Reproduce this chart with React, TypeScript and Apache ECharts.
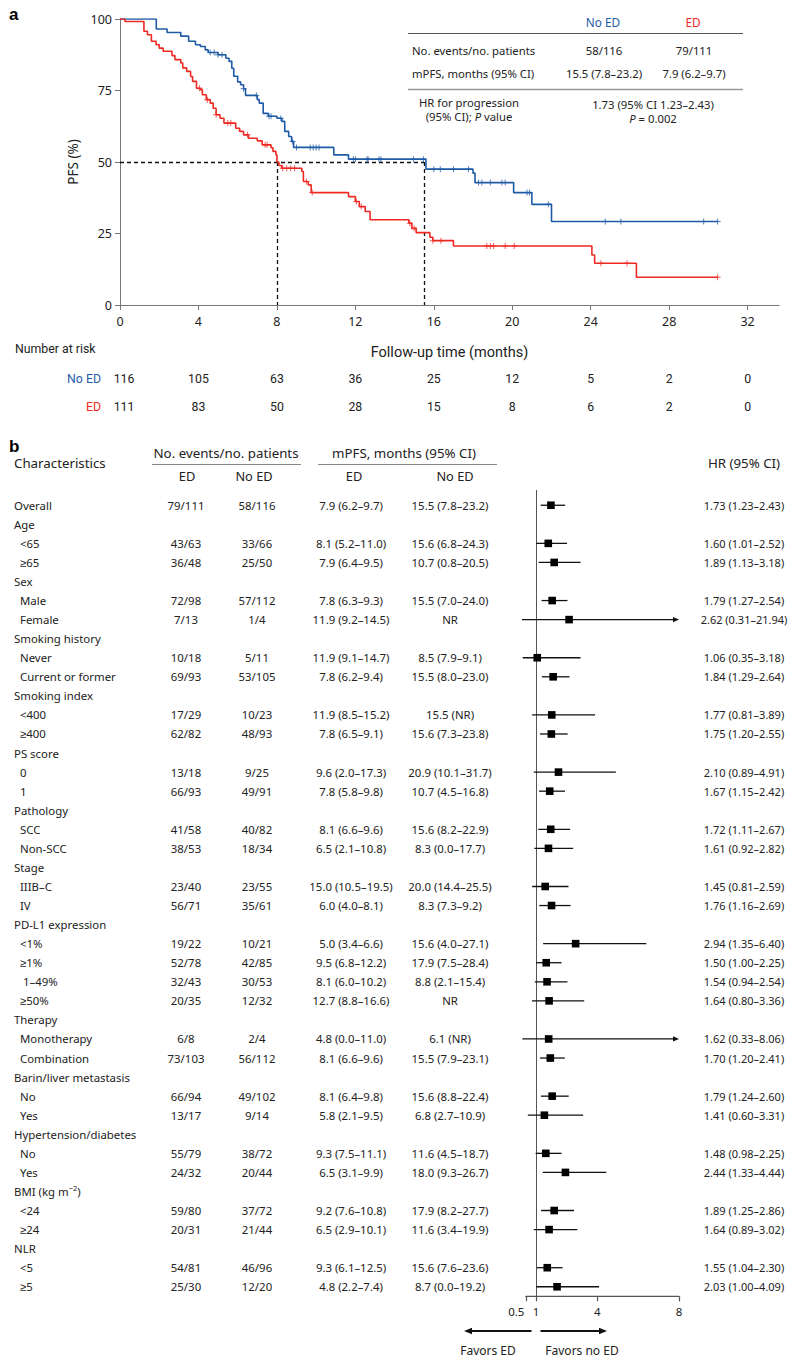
import React, { useEffect, useRef } from 'react';
import * as echarts from 'echarts';

const BLUE = '#1f5ba6';
const RED = '#ee2a24';
const FONT = "'Noto Sans', sans-serif";
const RFONT = "Roboto, sans-serif";

// ---------- Panel a : Kaplan–Meier ----------
const noEdTimes = [0, 1.85, 2.4, 3.1, 3.5, 3.85, 4.1, 4.35, 4.5, 5.0, 5.4, 5.56, 5.7, 5.8, 6.0, 6.15, 6.3, 6.4, 7.0, 7.1, 7.3, 7.56, 8.0, 8.25, 8.4, 8.6, 8.75, 8.85, 10.9, 11.65, 15.6, 18.0, 18.1, 20.07, 21.0, 22.0, 30.47];
const noEdSurv = [100, 96.5, 95.3, 94, 92.2, 91, 90.4, 89.2, 88.3, 87.5, 86.3, 85.2, 82.8, 80, 78, 77, 75.6, 73.3, 71.8, 70.6, 67, 66, 65.3, 64.2, 60.7, 58.9, 57.2, 55.1, 52.5, 51.0, 47.5, 46.1, 42.8, 39.3, 35.2, 29.2, 29.2];
const noEdCensor = [4.6, 4.8, 5.0, 5.2, 6.3, 6.95, 7.6, 7.7, 8.2, 8.8, 9.0, 9.7, 9.85, 10.0, 10.15, 11.9, 12.0, 12.6, 12.65, 13.2, 13.3, 14.96, 15.47, 16.0, 16.33, 17.0, 17.77, 18.28, 18.45, 18.88, 19.47, 19.64, 20.75, 20.88, 21.84, 24.74, 25.54, 29.76, 30.47];

const edTimes = [0, 0.25, 1.22, 1.4, 1.6, 1.84, 2.0, 2.2, 2.65, 2.8, 3.1, 3.2, 3.4, 3.6, 3.7, 3.9, 4.1, 4.2, 4.4, 4.6, 4.75, 4.9, 5.1, 5.3, 5.9, 6.1, 6.3, 6.55, 7.0, 7.25, 7.7, 7.8, 7.95, 8.0, 8.1, 8.25, 9.27, 9.35, 9.6, 9.75, 11.65, 12.0, 12.2, 12.5, 12.75, 14.73, 14.88, 15.1, 15.8, 15.95, 17.0, 24.06, 24.2, 26.33, 30.47];
const edSurv = [100, 99.1, 95.7, 94.5, 92.2, 91, 89.8, 88.7, 87.2, 85.8, 84.6, 82.9, 81.7, 79.9, 78.2, 75.8, 75.3, 73.5, 71.8, 70.6, 68.8, 66.5, 65.3, 63.6, 61.8, 60.7, 59.5, 58.3, 57.4, 56.0, 55.0, 53.7, 52.5, 50.0, 48.8, 47.8, 46.7, 43.2, 42.0, 39.3, 37.9, 36.2, 34.4, 32.7, 29.8, 28.6, 26.8, 25.3, 23.7, 22.5, 20.65, 17.5, 14.6, 9.7, 9.7];
const edCensor = [4.05, 4.45, 4.9, 5.5, 5.65, 6.5, 7.4, 7.5, 8.3, 8.5, 8.7, 8.9, 9.5, 9.8, 12.05, 12.3, 14.78, 15.0, 15.95, 16.36, 18.7, 18.88, 19.05, 19.64, 20.1, 24.52, 25.85, 30.47];

const medianTimes = [8, 15.5];
const xTicksKM = [0, 4, 8, 12, 16, 20, 24, 28, 32];

const riskMonths = [0, 4, 8, 12, 16, 20, 24, 28, 32];
const riskNoEd = [116, 105, 63, 36, 25, 12, 5, 2, 0];
const riskEd = [111, 83, 50, 28, 15, 8, 6, 2, 0];

const summaryRows = ['No. events/no. patients', 'mPFS, months (95% CI)'];
const summaryNoEd = ['58/116', '15.5 (7.8–23.2)'];
const summaryEd = ['79/111', '7.9 (6.2–9.7)'];
const hrSummary = ['1.73 (95% CI 1.23–2.43)', 'P = 0.002'];

// ---------- Panel b : forest ----------
const charLabels = ['Overall', 'Age', '<65', '≥65', 'Sex', 'Male', 'Female', 'Smoking history', 'Never', 'Current or former', 'Smoking index', '<400', '≥400', 'PS score', '0', '1', 'Pathology', 'SCC', 'Non-SCC', 'Stage', 'IIIB–C', 'IV', 'PD-L1 expression', '<1%', '≥1%', '1–49%', '≥50%', 'Therapy', 'Monotherapy', 'Combination', 'Barin/liver metastasis', 'No', 'Yes', 'Hypertension/diabetes', 'No', 'Yes', 'BMI (kg m⁻²)', '<24', '≥24', 'NLR', '<5', '≥5'];
const charIndent = [0, 0, 1, 1, 0, 1, 1, 0, 1, 1, 0, 1, 1, 0, 1, 1, 0, 1, 1, 0, 1, 1, 0, 1, 1, 2, 1, 0, 1, 1, 0, 1, 1, 0, 1, 1, 0, 1, 1, 0, 1, 1];
const edCounts = ['79/111', '', '43/63', '36/48', '', '72/98', '7/13', '', '10/18', '69/93', '', '17/29', '62/82', '', '13/18', '66/93', '', '41/58', '38/53', '', '23/40', '56/71', '', '19/22', '52/78', '32/43', '20/35', '', '6/8', '73/103', '', '66/94', '13/17', '', '55/79', '24/32', '', '59/80', '20/31', '', '54/81', '25/30'];
const noEdCounts = ['58/116', '', '33/66', '25/50', '', '57/112', '1/4', '', '5/11', '53/105', '', '10/23', '48/93', '', '9/25', '49/91', '', '40/82', '18/34', '', '23/55', '35/61', '', '10/21', '42/85', '30/53', '12/32', '', '2/4', '56/112', '', '49/102', '9/14', '', '38/72', '20/44', '', '37/72', '21/44', '', '46/96', '12/20'];
const edMpfs = ['7.9 (6.2–9.7)', '', '8.1 (5.2–11.0)', '7.9 (6.4–9.5)', '', '7.8 (6.3–9.3)', '11.9 (9.2–14.5)', '', '11.9 (9.1–14.7)', '7.8 (6.2–9.4)', '', '11.9 (8.5–15.2)', '7.8 (6.5–9.1)', '', '9.6 (2.0–17.3)', '7.8 (5.8–9.8)', '', '8.1 (6.6–9.6)', '6.5 (2.1–10.8)', '', '15.0 (10.5–19.5)', '6.0 (4.0–8.1)', '', '5.0 (3.4–6.6)', '9.5 (6.8–12.2)', '8.1 (6.0–10.2)', '12.7 (8.8–16.6)', '', '4.8 (0.0–11.0)', '8.1 (6.6–9.6)', '', '8.1 (6.4–9.8)', '5.8 (2.1–9.5)', '', '9.3 (7.5–11.1)', '6.5 (3.1–9.9)', '', '9.2 (7.6–10.8)', '6.5 (2.9–10.1)', '', '9.3 (6.1–12.5)', '4.8 (2.2–7.4)'];
const noEdMpfs = ['15.5 (7.8–23.2)', '', '15.6 (6.8–24.3)', '10.7 (0.8–20.5)', '', '15.5 (7.0–24.0)', 'NR', '', '8.5 (7.9–9.1)', '15.5 (8.0–23.0)', '', '15.5 (NR)', '15.6 (7.3–23.8)', '', '20.9 (10.1–31.7)', '10.7 (4.5–16.8)', '', '15.6 (8.2–22.9)', '8.3 (0.0–17.7)', '', '20.0 (14.4–25.5)', '8.3 (7.3–9.2)', '', '15.6 (4.0–27.1)', '17.9 (7.5–28.4)', '8.8 (2.1–15.4)', 'NR', '', '6.1 (NR)', '15.5 (7.9–23.1)', '', '15.6 (8.8–22.4)', '6.8 (2.7–10.9)', '', '11.6 (4.5–18.7)', '18.0 (9.3–26.7)', '', '17.9 (8.2–27.7)', '11.6 (3.4–19.9)', '', '15.6 (7.6–23.6)', '8.7 (0.0–19.2)'];
const hrValue = [1.73, null, 1.60, 1.89, null, 1.79, 2.62, null, 1.06, 1.84, null, 1.77, 1.75, null, 2.10, 1.67, null, 1.72, 1.61, null, 1.45, 1.76, null, 2.94, 1.50, 1.54, 1.64, null, 1.62, 1.70, null, 1.79, 1.41, null, 1.48, 2.44, null, 1.89, 1.64, null, 1.55, 2.03];
const hrLow = [1.23, null, 1.01, 1.13, null, 1.27, 0.31, null, 0.35, 1.29, null, 0.81, 1.20, null, 0.89, 1.15, null, 1.11, 0.92, null, 0.81, 1.16, null, 1.35, 1.00, 0.94, 0.80, null, 0.33, 1.20, null, 1.24, 0.60, null, 0.98, 1.33, null, 1.25, 0.89, null, 1.04, 1.00];
const hrHigh = [2.43, null, 2.52, 3.18, null, 2.54, 21.94, null, 3.18, 2.64, null, 3.89, 2.55, null, 4.91, 2.42, null, 2.67, 2.82, null, 2.59, 2.69, null, 6.40, 2.25, 2.54, 3.36, null, 8.06, 2.41, null, 2.60, 3.31, null, 2.25, 4.44, null, 2.86, 3.02, null, 2.30, 4.09];
const forestTicks = [0.5, 1, 4, 8];

// ---------- layout constants ----------
const KM = { left: 120, top: 19, width: 659, height: 286, xMax: 33.6 };
const FP = { left: 525.8, top: 490, width: 153.2, height: 806.3, xMin: 0.5, xMax: 8, yMin: -0.8, yMax: 41.5 };

const kmX = (m: number) => KM.left + (m / KM.xMax) * KM.width;
const rowY = (i: number) => FP.top + ((i - FP.yMin) / (FP.yMax - FP.yMin)) * FP.height;

function stepAt(times: number[], vals: number[], t: number) {
  let v = vals[0];
  for (let i = 0; i < times.length; i++) if (times[i] <= t + 1e-9) v = vals[i];
  return v;
}

const PLUS = 'path://M-0.16,-1H0.16V-0.16H1V0.16H0.16V1H-0.16V0.16H-1V-0.16H-0.16Z';
const ROW_SIZE = 11.4;
const HEAD_SIZE = 13.3;

function txt(text: string, x: number, y: number, opts: any = {}) {
  return {
    type: 'text',
    x,
    y,
    silent: true,
    style: {
      text,
      fill: opts.fill || '#222',
      fontSize: opts.size || 11,
      fontFamily: opts.family || FONT,
      fontWeight: opts.weight || 'normal',
      fontStyle: opts.style || 'normal',
      align: opts.align || 'left',
      verticalAlign: 'middle',
    },
  };
}
function hline(x1: number, x2: number, y: number, stroke = '#666', w = 1) {
  return { type: 'line', silent: true, shape: { x1, y1: y, x2, y2: y }, style: { stroke, lineWidth: w } };
}

function buildGraphics() {
  const g: any[] = [];
  g.push(txt('a', 9, 14, { size: 17, weight: 'bold', family: "'Liberation Sans', Arial, sans-serif", fill: '#000' }));
  g.push(txt('b', 9, 446, { size: 17, weight: 'bold', family: "'Liberation Sans', Arial, sans-serif", fill: '#000' }));

  // summary table (panel a)
  const S = 11.3;
  g.push(txt('No ED', 603, 22, { align: 'center', fill: BLUE, size: 11.8 }));
  g.push(txt('ED', 693, 22, { align: 'center', fill: RED, size: 11.8 }));
  g.push(hline(408, 743, 33.5, '#555', 1));
  const sy = [50, 73];
  summaryRows.forEach((r, i) => {
    g.push(txt(r, 412, sy[i], { size: S }));
    g.push(txt(summaryNoEd[i], 604, sy[i], { align: 'center', size: S }));
    g.push(txt(summaryEd[i], 694, sy[i], { align: 'center', size: S }));
  });
  g.push(hline(408, 743, 89.5, '#999', 1.5));
  g.push(txt('HR for progression', 469, 102, { align: 'center', size: S }));
  g.push({
    type: 'text', x: 469, y: 116, silent: true,
    style: {
      text: '(95% CI); {i|P} value', align: 'center', verticalAlign: 'middle', fill: '#222', fontSize: S, fontFamily: FONT,
      rich: { i: { fontStyle: 'italic', fontSize: S, fontFamily: FONT, fill: '#222' } },
    },
  });
  g.push(txt(hrSummary[0], 653, 104, { align: 'center', size: S }));
  g.push({
    type: 'text', x: 653, y: 118, silent: true,
    style: {
      text: '{i|P}' + hrSummary[1].slice(1), align: 'center', verticalAlign: 'middle', fill: '#222', fontSize: S, fontFamily: FONT,
      rich: { i: { fontStyle: 'italic', fontSize: S, fontFamily: FONT, fill: '#222' } },
    },
  });

  // number at risk
  const R = 12.3;
  g.push(txt('Number at risk', 15, 349, { family: RFONT, size: R }));
  g.push(txt('No ED', 101, 379, { family: RFONT, size: R, align: 'right', fill: BLUE }));
  g.push(txt('ED', 101, 407, { family: RFONT, size: R, align: 'right', fill: RED }));
  riskMonths.forEach((m, i) => {
    g.push(txt(String(riskNoEd[i]), kmX(m) + (i === 0 ? 4 : 0), 379, { family: RFONT, size: R, align: 'center' }));
    g.push(txt(String(riskEd[i]), kmX(m) + (i === 0 ? 4 : 0), 407, { family: RFONT, size: R, align: 'center' }));
  });

  // forest table header
  g.push(txt('Characteristics', 14, 463, { size: HEAD_SIZE }));
  g.push(txt('No. events/no. patients', 226, 453, { align: 'center', size: HEAD_SIZE }));
  g.push(hline(152, 301, 464.5, '#888', 1.2));
  g.push(txt('ED', 187, 476, { align: 'center', size: HEAD_SIZE - 0.5 }));
  g.push(txt('No ED', 254, 476, { align: 'center', size: HEAD_SIZE - 0.5 }));
  g.push(txt('mPFS, months (95% CI)', 404, 453, { align: 'center', size: HEAD_SIZE }));
  g.push(hline(318, 497, 464.5, '#888', 1.2));
  g.push(txt('ED', 354, 476, { align: 'center', size: HEAD_SIZE - 0.5 }));
  g.push(txt('No ED', 455, 476, { align: 'center', size: HEAD_SIZE - 0.5 }));
  g.push(txt('HR (95% CI)', 744, 463, { align: 'center', size: HEAD_SIZE }));

  const indentX = [14, 20, 23];
  charLabels.forEach((lab, i) => {
    const y = rowY(i);
    if (lab.startsWith('BMI')) {
      g.push({
        type: 'text', x: 14, y, silent: true,
        style: {
          text: 'BMI (kg m{s|−2})', verticalAlign: 'middle', fill: '#222', fontSize: ROW_SIZE, fontFamily: FONT,
          rich: { s: { fontSize: 7.5, fontFamily: FONT, fill: '#222', verticalAlign: 'top', padding: [0, 0, 6, 0] } },
        },
      });
    } else {
      g.push(txt(lab, indentX[charIndent[i]], y, { size: ROW_SIZE }));
    }
    if (edCounts[i]) g.push(txt(edCounts[i], 186, y, { align: 'center', size: ROW_SIZE }));
    if (noEdCounts[i]) g.push(txt(noEdCounts[i], 257, y, { align: 'center', size: ROW_SIZE }));
    if (edMpfs[i]) g.push(txt(edMpfs[i], 351, y, { align: 'center', size: ROW_SIZE }));
    if (noEdMpfs[i]) g.push(txt(noEdMpfs[i], 450, y, { align: 'center', size: ROW_SIZE }));
    const hv = hrValue[i], lo = hrLow[i], hi = hrHigh[i];
    if (hv != null && lo != null && hi != null) {
      g.push(txt(`${hv.toFixed(2)} (${lo.toFixed(2)}–${hi.toFixed(2)})`, 744, y, { align: 'center', size: 11 }));
    }
  });

  // forest axis baseline (reinforced)
  g.push(hline(FP.left, FP.left + FP.width, FP.top + FP.height, '#555', 1.2));

  // favors arrows
  const ay = 1331;
  g.push({ type: 'line', silent: true, shape: { x1: 531.5, y1: ay, x2: 470, y2: ay }, style: { stroke: '#111', lineWidth: 2 } });
  g.push({ type: 'polygon', silent: true, shape: { points: [[464, ay], [472, ay - 3.2], [472, ay + 3.2]] }, style: { fill: '#111' } });
  g.push({ type: 'line', silent: true, shape: { x1: 540.5, y1: ay, x2: 601, y2: ay }, style: { stroke: '#111', lineWidth: 2 } });
  g.push({ type: 'polygon', silent: true, shape: { points: [[607, ay], [599, ay - 3.2], [599, ay + 3.2]] }, style: { fill: '#111' } });
  g.push(txt('Favors ED', 488, 1350, { align: 'center', size: 12 }));
  g.push(txt('Favors no ED', 582, 1350, { align: 'center', size: 12 }));
  return g;
}

function buildOption() {
  const noEdLine = noEdTimes.map((t, i) => [t, noEdSurv[i]]);
  const edLine = edTimes.map((t, i) => [t, edSurv[i]]);
  const noEdC = noEdCensor.map((t) => [t, stepAt(noEdTimes, noEdSurv, t)]);
  const edC = edCensor.map((t) => [t, stepAt(edTimes, edSurv, t)]);
  const medLines = [
    { coords: [[0, 50], [medianTimes[1], 50]] },
    { coords: [[medianTimes[0], 50], [medianTimes[0], 0]] },
    { coords: [[medianTimes[1], 50], [medianTimes[1], 0]] },
  ];
  const forestData: any[] = [];
  hrValue.forEach((v, i) => {
    if (v != null) forestData.push([i, v, hrLow[i], hrHigh[i]]);
  });

  const axisText = { color: '#222', fontSize: 12.5, fontFamily: FONT };

  return {
    animation: false,
    backgroundColor: '#fff',
    textStyle: { fontFamily: FONT },
    grid: [
      { left: KM.left, top: KM.top, width: KM.width, height: KM.height, containLabel: false },
      { left: FP.left, top: FP.top, width: FP.width, height: FP.height, containLabel: false },
    ],
    xAxis: [
      {
        gridIndex: 0, type: 'value', min: 0, max: KM.xMax,
        axisLine: { show: true, onZero: false, lineStyle: { color: '#777', width: 1 } },
        axisTick: { show: true, length: 5, lineStyle: { color: '#777' }, customValues: xTicksKM },
        axisLabel: { ...axisText, margin: 10, customValues: xTicksKM, hideOverlap: false },
        splitLine: { show: false },
        name: 'Follow-up time (months)', nameLocation: 'middle', nameGap: 40,
        nameTextStyle: { color: '#222', fontSize: 14.5, fontFamily: RFONT },
      },
      {
        gridIndex: 1, type: 'value', min: FP.xMin, max: FP.xMax, position: 'bottom',
        axisLine: { show: true, onZero: false, lineStyle: { color: '#555', width: 1.2 } },
        axisTick: { show: true, length: 5, lineStyle: { color: '#555', width: 1.2 }, customValues: forestTicks },
        axisLabel: {
          color: '#222', fontSize: 11.5, fontFamily: FONT, margin: 9, customValues: forestTicks, hideOverlap: false,
          showMinLabel: true, showMaxLabel: true,
          formatter: (v: number) => (v === 0.5 ? '{l|0.5}' : String(v)),
          rich: { l: { color: '#222', fontSize: 11.5, fontFamily: FONT, padding: [0, 19, 0, 0] } },
        },
        splitLine: { show: false },
      },
    ],
    yAxis: [
      {
        gridIndex: 0, type: 'value', min: 0, max: 100, interval: 25,
        axisLine: { show: true, onZero: false, lineStyle: { color: '#777', width: 1 } },
        axisTick: { show: true, length: 5, lineStyle: { color: '#777' } },
        axisLabel: { ...axisText, margin: 8 },
        splitLine: { show: false },
        name: 'PFS (%)', nameLocation: 'middle', nameGap: 40, nameRotate: 90,
        nameTextStyle: { color: '#222', fontSize: 13.5, fontFamily: FONT },
      },
      {
        gridIndex: 1, type: 'value', inverse: true, min: FP.yMin, max: FP.yMax, show: false,
        splitLine: { show: false },
      },
    ],
    series: [
      {
        type: 'lines', coordinateSystem: 'cartesian2d', xAxisIndex: 0, yAxisIndex: 0, silent: true,
        data: medLines, lineStyle: { color: '#111', width: 1.3, type: [4, 3], opacity: 1 }, z: 1,
      },
      {
        name: 'No ED', type: 'line', step: 'end', xAxisIndex: 0, yAxisIndex: 0, data: noEdLine,
        showSymbol: false, symbol: 'none', lineStyle: { color: BLUE, width: 1.6 }, itemStyle: { color: BLUE }, z: 3,
      },
      {
        name: 'ED', type: 'line', step: 'end', xAxisIndex: 0, yAxisIndex: 0, data: edLine,
        showSymbol: false, symbol: 'none', lineStyle: { color: RED, width: 1.6 }, itemStyle: { color: RED }, z: 3,
      },
      {
        type: 'scatter', xAxisIndex: 0, yAxisIndex: 0, data: noEdC, symbol: PLUS, symbolSize: 6,
        itemStyle: { color: BLUE }, silent: true, z: 4,
      },
      {
        type: 'scatter', xAxisIndex: 0, yAxisIndex: 0, data: edC, symbol: PLUS, symbolSize: 6,
        itemStyle: { color: RED }, silent: true, z: 4,
      },
      {
        type: 'custom', xAxisIndex: 1, yAxisIndex: 1, coordinateSystem: 'cartesian2d', clip: false, silent: true,
        data: forestData,
        encode: { x: [1, 2, 3], y: 0 },
        renderItem: (params: any, api: any) => {
          const row = api.value(0), hr = api.value(1), lo = api.value(2), hi = api.value(3);
          const p = api.coord([hr, row]);
          const pl = api.coord([lo, row]);
          const capped = hi > FP.xMax;
          const ph = api.coord([Math.min(hi, FP.xMax), row]);
          const children: any[] = [
            { type: 'line', shape: { x1: pl[0], y1: p[1], x2: capped ? ph[0] - 5 : ph[0], y2: p[1] }, style: { stroke: '#111', lineWidth: 1.3 } },
            { type: 'rect', shape: { x: p[0] - 3.8, y: p[1] - 3.8, width: 7.6, height: 7.6 }, style: { fill: '#000' } },
          ];
          if (capped) {
            children.push({ type: 'polygon', shape: { points: [[ph[0], p[1]], [ph[0] - 6, p[1] - 2.6], [ph[0] - 6, p[1] + 2.6]] }, style: { fill: '#111' } });
          }
          return { type: 'group', children };
        },
        markLine: {
          silent: true, symbol: 'none', label: { show: false },
          lineStyle: { color: '#555', width: 1, type: 'solid' },
          data: [{ xAxis: 1 }],
        },
        z: 5,
      },
    ],
    graphic: buildGraphics(),
  };
}

export default function App() {
  const ref = useRef<HTMLDivElement>(null);
  useEffect(() => {
    document.body.style.margin = '0';
    const chart = echarts.init(ref.current!, null, { renderer: 'svg' });
    chart.setOption(buildOption() as any);
    return () => chart.dispose();
  }, []);
  return <div ref={ref} style={{ width: 792, height: 1358 }} />;
}
